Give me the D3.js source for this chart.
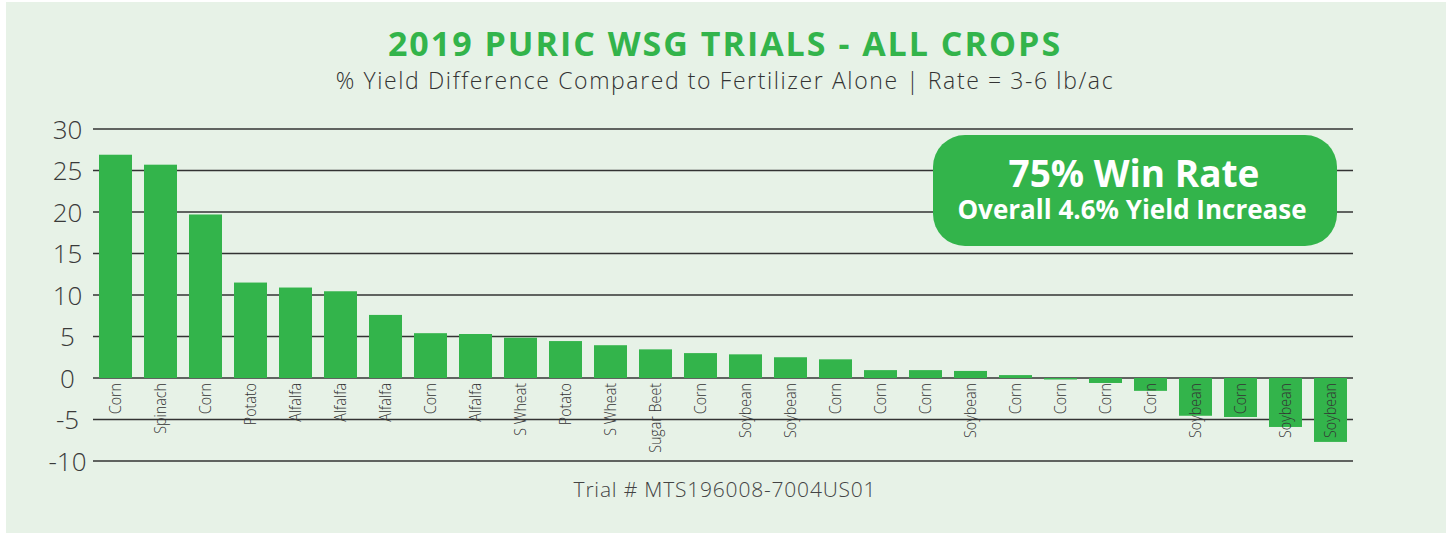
<!DOCTYPE html>
<html>
<head>
<meta charset="utf-8">
<script src="https://cdn.jsdelivr.net/npm/d3@7"></script>
<style>
  html, body { margin: 0; padding: 0; background: #ffffff; }
  svg { display: block; }
  text { font-family: "Open Sans", "Noto Sans", sans-serif; }
</style>
</head>
<body>
<svg id="chart" width="1447" height="535"></svg>
<script>
const crops = ["Corn","Spinach","Corn","Potato","Alfalfa","Alfalfa","Alfalfa","Corn","Alfalfa","S Wheat",
  "Potato","S Wheat","Sugar Beet","Corn","Soybean","Soybean","Corn","Corn","Corn","Soybean",
  "Corn","Corn","Corn","Corn","Soybean","Corn","Soybean","Soybean"];
const yieldDiff = [26.9,25.7,19.7,11.5,10.9,10.45,7.6,5.4,5.3,4.85,
  4.45,3.95,3.45,3.0,2.85,2.5,2.25,0.95,0.95,0.85,
  0.35,-0.15,-0.6,-1.55,-4.55,-4.7,-5.9,-7.7];
const yTicks = [30,25,20,15,10,5,0,-5,-10];
const titleText = "2019 PURIC WSG TRIALS - ALL CROPS";
const subtitleText = "% Yield Difference Compared to Fertilizer Alone | Rate = 3-6 lb/ac";
const xTitle = "Trial # MTS196008-7004US01";
const badgeLine1 = "75% Win Rate";
const badgeLine2 = "Overall 4.6% Yield Increase";

const svg = d3.select("#chart");
const green = "#33b44b";

svg.append("rect").attr("x", 6).attr("y", 2).attr("width", 1440).attr("height", 531).attr("fill", "#e7f2e7");

const x = d3.scaleBand().domain(d3.range(crops.length)).range([93, 1353]).paddingInner(0.2667).paddingOuter(0.1333);
const y = d3.scaleLinear().domain([-10, 30]).range([461, 129]);

// gridlines
svg.append("g").selectAll("line").data(yTicks).join("line")
  .attr("x1", 93).attr("x2", 1353)
  .attr("y1", d => y(d)).attr("y2", d => y(d))
  .attr("stroke", "#333").attr("stroke-width", 1.6);

// y labels
svg.append("g").selectAll("text").data(yTicks).join("text")
  .attr("x", 67.5).attr("y", d => y(d)).attr("dy", "0.38em")
  .attr("text-anchor", "middle")
  .attr("font-size", 26).attr("font-weight", 300).attr("fill", "#3a3a3a")
  .text(d => d);

// bars
svg.append("g").selectAll("rect").data(yieldDiff).join("rect")
  .attr("x", (d, i) => x(i)).attr("width", x.bandwidth())
  .attr("y", d => y(Math.max(0, d)))
  .attr("height", d => Math.max(1.5, Math.abs(y(d) - y(0))))
  .attr("fill", green);

// category labels
svg.append("g").selectAll("text").data(crops).join("text")
  .attr("transform", (d, i) => `translate(${x(i) + x.bandwidth() / 2},383) rotate(-90) scale(0.84,1)`)
  .attr("dy", "0.35em")
  .attr("text-anchor", "end")
  .attr("font-size", 17).attr("font-weight", 300).attr("fill", "#333")
  .text(d => d);

// title
svg.append("text").attr("x", 725).attr("y", 56).attr("text-anchor", "middle")
  .attr("font-size", 34).attr("font-weight", 700).attr("fill", green).attr("letter-spacing", 2)
  .text(titleText);
svg.append("text").attr("x", 725).attr("y", 89).attr("text-anchor", "middle")
  .attr("font-size", 23).attr("font-weight", 300).attr("fill", "#333").attr("letter-spacing", 1.6)
  .text(subtitleText);

// x title
svg.append("text").attr("x", 725).attr("y", 497).attr("text-anchor", "middle")
  .attr("font-size", 21).attr("font-weight", 300).attr("fill", "#444").attr("letter-spacing", 0.8)
  .text(xTitle);

// badge
svg.append("rect").attr("x", 933).attr("y", 135).attr("width", 404).attr("height", 111)
  .attr("rx", 32).attr("ry", 32).attr("fill", green);
svg.append("text").attr("x", 1134).attr("y", 187).attr("text-anchor", "middle")
  .attr("font-size", 37).attr("font-weight", 700).attr("fill", "#fff").text(badgeLine1);
svg.append("text").attr("x", 1132).attr("y", 219).attr("text-anchor", "middle")
  .attr("font-size", 26).attr("font-weight", 700).attr("fill", "#fff").text(badgeLine2);
</script>
</body>
</html>
